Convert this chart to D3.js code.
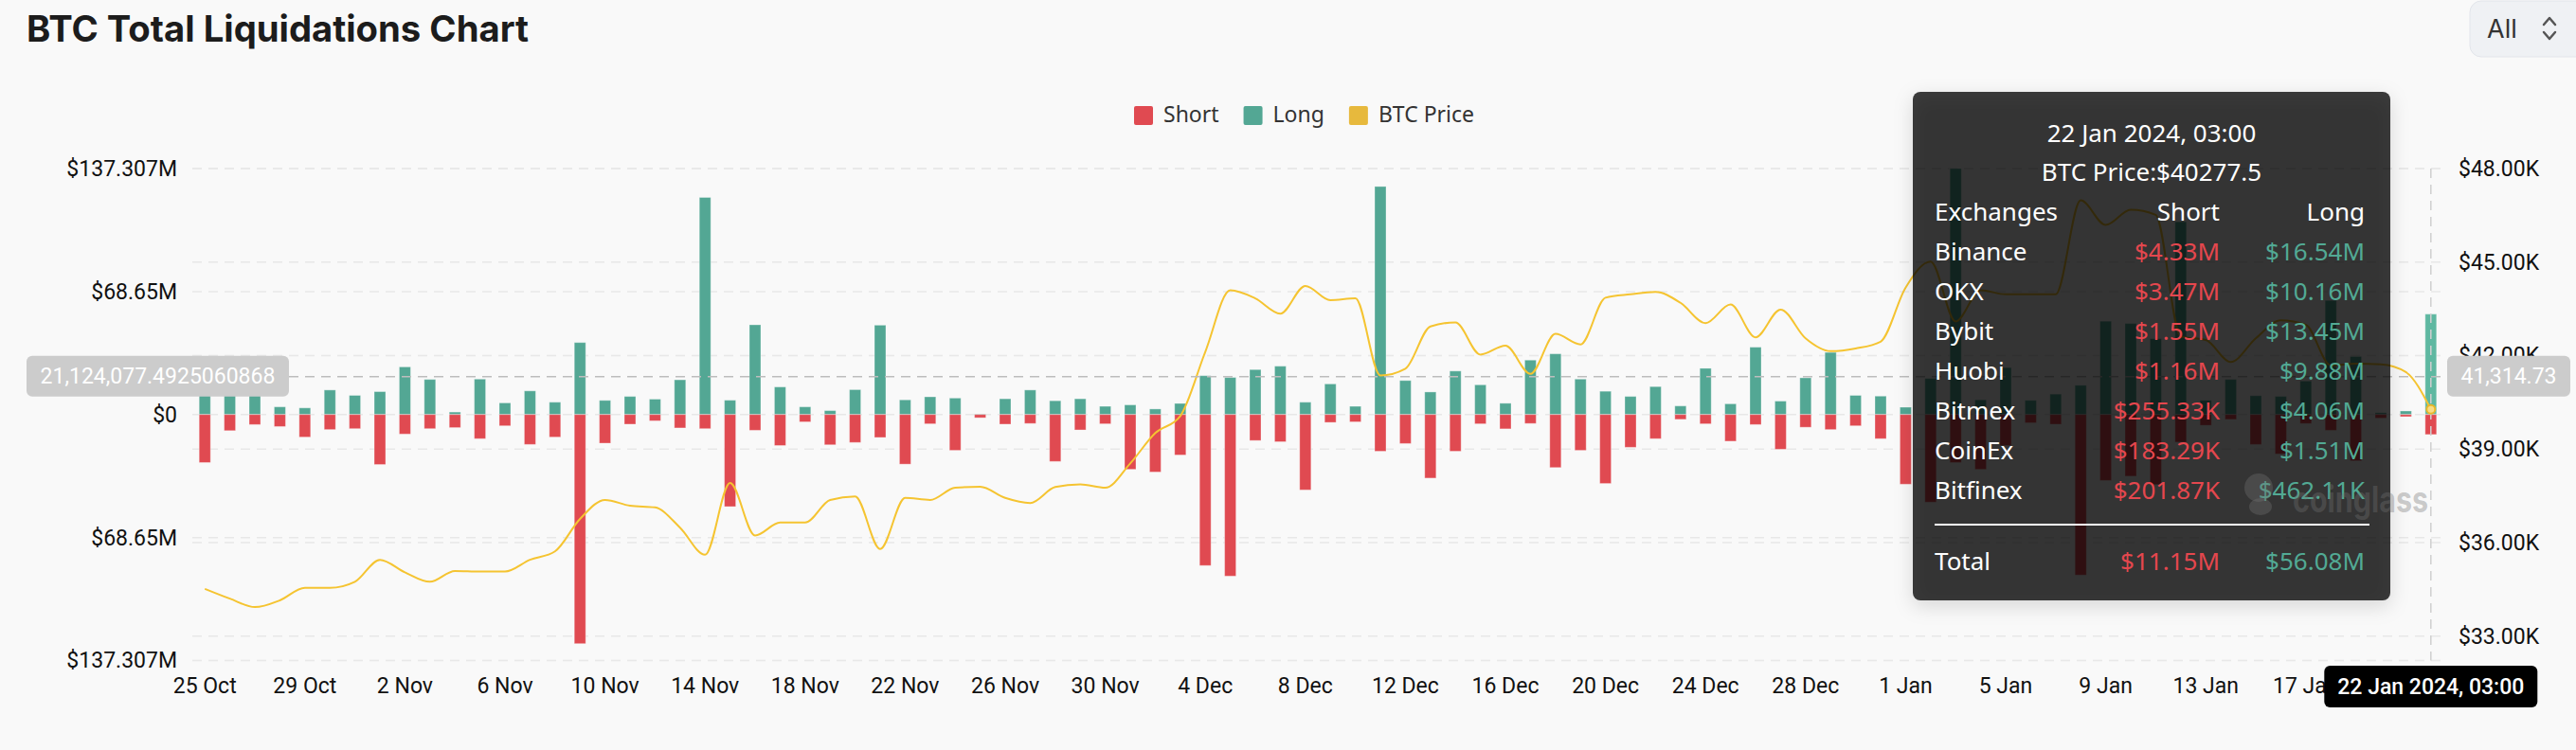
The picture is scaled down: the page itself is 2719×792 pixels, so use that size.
<!DOCTYPE html>
<html>
<head>
<meta charset="utf-8">
<script src="https://cdn.jsdelivr.net/npm/d3@7"></script>
<style>
  html, body { margin: 0; padding: 0; background: #f9f9f9; }
  svg { display: block; }
</style>
</head>
<body>
<script>
// daily categories, 25 Oct 2023 .. 22 Jan 2024
const dates = d3.timeDays(new Date(2023, 9, 25), new Date(2024, 0, 23));

// long liquidations, $M
const longVals = [
  16, 14, 12, 4.3, 3.7, 13.7, 10.7, 12.8, 26.6, 19.6,
  1.4, 19.8, 6.5, 13.2, 6.9, 40.2, 7.9, 10.1, 8.6, 19.4,
  121.2, 8.0, 50.1, 15.4, 4.3, 2.2, 13.9, 49.9, 8.2, 9.9,
  9.2, 0.3, 8.8, 13.7, 7.7, 8.8, 4.6, 5.4, 3.1, 6.2,
  21.7, 20.7, 25.1, 27.0, 6.9, 17.1, 4.6, 127.3, 19.0, 12.6,
  24.3, 16.6, 6.3, 30.4, 33.9, 19.8, 13.0, 10.1, 15.6, 4.8,
  25.8, 6.0, 37.6, 7.5, 20.5, 34.7, 10.7, 10.3, 4.1, 20.1,
  137.307, 8.2, 26.2, 7.9, 11.4, 16.3, 52.1, 50.8, 42.3, 107.6,
  7.9, 19.6, 10.5, 10.1, 18.7, 63.7, 32.4, 1.0, 2.0, 56.08
];

// short liquidations, $M (drawn below zero)
const shortVals = [
  26.8, 9.0, 5.6, 6.7, 12.6, 8.4, 7.9, 27.9, 10.9, 7.9,
  7.3, 13.5, 6.3, 16.7, 12.6, 127.9, 16.0, 5.4, 3.5, 7.5,
  7.9, 51.4, 8.8, 17.3, 4.1, 16.9, 15.6, 12.8, 27.7, 5.2,
  20.0, 1.8, 5.4, 5.0, 26.2, 8.6, 5.2, 30.6, 32.1, 22.6,
  84.3, 90.2, 14.5, 15.2, 42.1, 4.4, 4.1, 20.5, 16.2, 35.5,
  20.5, 5.2, 8.0, 5.0, 29.6, 20.0, 38.5, 18.3, 13.5, 2.7,
  5.2, 14.9, 5.6, 19.4, 7.1, 8.4, 6.3, 13.5, 38.9, 48.9,
  26.8, 30.6, 17.3, 4.6, 5.4, 89.6, 36.8, 34.4, 39.1, 15.4,
  6.0, 2.7, 16.7, 22.0, 5.0, 8.8, 25.8, 2.0, 1.2, 11.15
];

// BTC price, USD
const priceVals = [
  34518, 34204, 33933, 34150, 34551, 34551, 34746, 35450, 35050, 34746,
  35093, 35072, 35072, 35450, 35720, 36760, 37371, 37187, 37132, 36482,
  35614, 37913, 36232, 36644, 36644, 37371, 37479, 35798, 37436, 37371,
  37762, 37794, 37436, 37273, 37784, 37870, 37762, 38542, 39518, 40061,
  42122, 44095, 43835, 43347, 44236, 43781, 43835, 41362, 41580, 42935,
  43065, 42035, 42317, 41416, 42696, 42360, 43857, 43965, 44041, 43694,
  43043, 43640, 42588, 43477, 42555, 42143, 42230, 42447, 44182, 45017,
  43097, 44100, 43965, 43965, 43965, 46980, 46189, 46677, 46514, 42610,
  42501, 41796, 42555, 43130, 42989, 41688, 41742, 41720, 41471, 40277.5
];

const leftTicks = [-137.307, -68.6535, 0, 68.6535, 137.307];
const leftTickLabels = ["$137.307M", "$68.65M", "$0", "$68.65M", "$137.307M"];
const rightTicks = [33000, 36000, 39000, 42000, 45000, 48000];
const rightTickLabels = ["$33.00K", "$36.00K", "$39.00K", "$42.00K", "$45.00K", "$48.00K"];

const hoverValue = 21.1240774925060868; // $M at the crosshair
const hoverValueLabel = "21,124,077.4925060868";
const hoverPriceLabel = "41,314.73";
const hoverDateLabel = "22 Jan 2024, 03:00";

const exchanges = ["Binance", "OKX", "Bybit", "Huobi", "Bitmex", "CoinEx", "Bitfinex"];
const exShort = ["$4.33M", "$3.47M", "$1.55M", "$1.16M", "$255.33K", "$183.29K", "$201.87K"];
const exLong = ["$16.54M", "$10.16M", "$13.45M", "$9.88M", "$4.06M", "$1.51M", "$462.11K"];
const totalShort = "$11.15M";
const totalLong = "$56.08M";
const tipPrice = "BTC Price:$40277.5";

const RED = "#e04a51", GREEN = "#53a794", YELLOW = "#f5c431";
const TIP_RED = "#e5474e", TIP_GREEN = "#52aa94";

const W = 2719, H = 792;
const plot = { left: 203, right: 2579, top: 178, bottom: 697.5 };

const svg = d3.select("body").append("svg")
  .attr("width", W).attr("height", H)
  .style("font-family", "Roboto, sans-serif");

svg.append("rect").attr("width", W).attr("height", H).attr("fill", "#f9f9f9");

const defs = svg.append("defs");
const shadow = defs.append("filter").attr("id", "shadow")
  .attr("x", "-10%").attr("y", "-10%").attr("width", "120%").attr("height", "125%");
shadow.append("feDropShadow").attr("dx", 0).attr("dy", 6).attr("stdDeviation", 10)
  .attr("flood-color", "#000").attr("flood-opacity", 0.18);

const x = d3.scaleBand().domain(dates).range([plot.left, plot.right]).padding(0);
const yL = d3.scaleLinear().domain([-137.307, 137.307]).range([plot.bottom, plot.top]);
const yR = d3.scaleLinear().domain([32220, 48000]).range([plot.bottom, plot.top]);
const cx = (d) => x(d) + x.bandwidth() / 2;
const barW = 12;

// grid lines for both axes
const grid = svg.append("g").attr("stroke", "#e8e8e8").attr("stroke-width", 1.5)
  .attr("stroke-dasharray", "10,7");
grid.selectAll("line.l").data(leftTicks).join("line").attr("class", "l")
  .attr("x1", plot.left).attr("x2", plot.right)
  .attr("y1", (d) => yL(d)).attr("y2", (d) => yL(d));
grid.selectAll("line.r").data(rightTicks).join("line").attr("class", "r")
  .attr("x1", plot.left).attr("x2", plot.right)
  .attr("y1", (d) => yR(d)).attr("y2", (d) => yR(d));

// bars
const bars = svg.append("g").attr("stroke", "#fff").attr("stroke-opacity", 0.35).attr("stroke-width", 1);
bars.selectAll("rect.long").data(dates).join("rect").attr("class", "long")
  .attr("x", (d) => cx(d) - barW / 2).attr("width", barW)
  .attr("y", (d, i) => yL(longVals[i]))
  .attr("height", (d, i) => yL(0) - yL(longVals[i]))
  .attr("fill", (d, i) => (i === dates.length - 1 ? "#5fb8a1" : GREEN));
bars.selectAll("rect.short").data(dates).join("rect").attr("class", "short")
  .attr("x", (d) => cx(d) - barW / 2).attr("width", barW)
  .attr("y", yL(0))
  .attr("height", (d, i) => yL(-shortVals[i]) - yL(0))
  .attr("fill", RED);

// price line
const line = d3.line().x((d) => cx(d)).y((d, i) => yR(priceVals[i])).curve(d3.curveMonotoneX);
svg.append("path").datum(dates).attr("d", line)
  .attr("fill", "none").attr("stroke", YELLOW).attr("stroke-width", 2);

// crosshair
const lastDate = dates[dates.length - 1];
svg.append("line")
  .attr("x1", plot.left).attr("x2", plot.right)
  .attr("y1", yL(hoverValue)).attr("y2", yL(hoverValue))
  .attr("stroke", "#bdbdbd").attr("stroke-width", 1.5).attr("stroke-dasharray", "10,7");
svg.append("line")
  .attr("x1", cx(lastDate)).attr("x2", cx(lastDate))
  .attr("y1", plot.top).attr("y2", plot.bottom)
  .attr("stroke", "#cfcfcf").attr("stroke-width", 1.5).attr("stroke-dasharray", "10,7");
svg.append("circle")
  .attr("cx", cx(lastDate)).attr("cy", yR(priceVals[priceVals.length - 1])).attr("r", 4.5)
  .attr("fill", "#f8dc85").attr("stroke", "#e9b728").attr("stroke-width", 2);

// axes
const axisFont = (g) => {
  g.select(".domain").remove();
  g.selectAll("text").attr("font-size", 23).attr("fill", "#111").attr("font-family", "Roboto, sans-serif");
};
svg.append("g").attr("transform", `translate(${plot.left},0)`)
  .call(d3.axisLeft(yL).tickValues(leftTicks).tickSize(0).tickPadding(16)
    .tickFormat((d, i) => leftTickLabels[i]))
  .call(axisFont);
svg.append("g").attr("transform", `translate(${plot.right},0)`)
  .call(d3.axisRight(yR).tickValues(rightTicks).tickSize(0).tickPadding(16)
    .tickFormat((d, i) => rightTickLabels[i]))
  .call(axisFont);
svg.append("g").attr("transform", `translate(0,${plot.bottom})`)
  .call(d3.axisBottom(x).tickValues(dates.filter((d, i) => i % 4 === 0 && i <= 84))
    .tickSize(0).tickPadding(18).tickFormat(d3.timeFormat("%-d %b")))
  .call(axisFont);

// crosshair labels
function pill(x0, y0, w, h, fill, label, weight) {
  const g = svg.append("g");
  g.append("rect").attr("x", x0).attr("y", y0).attr("width", w).attr("height", h)
    .attr("rx", 6).attr("fill", fill);
  g.append("text").attr("x", x0 + w / 2).attr("y", y0 + h / 2).attr("dy", "0.35em")
    .attr("text-anchor", "middle").attr("fill", "#fff").attr("font-size", 23)
    .attr("font-weight", weight || 400).text(label);
}
pill(28, yL(hoverValue) - 22, 277, 43, "#cccccc", hoverValueLabel);
pill(2583, yL(hoverValue) - 22, 130, 43, "#cccccc", hoverPriceLabel);
pill(cx(lastDate) - 112.5, 703, 225, 44, "#000", hoverDateLabel, 500);

// tooltip
const tip = svg.append("g").style("font-family", "'Noto Sans', sans-serif").attr("font-size", 26);
tip.append("rect").attr("x", 2019).attr("y", 97).attr("width", 504).attr("height", 537)
  .attr("rx", 8).attr("fill", "rgba(8,8,8,0.76)").attr("filter", "url(#shadow)");
tip.append("text").attr("x", 2271).attr("y", 150).attr("text-anchor", "middle")
  .attr("fill", "#fff").text(hoverDateLabel);
tip.append("text").attr("x", 2271).attr("y", 191).attr("text-anchor", "middle")
  .attr("fill", "#fff").text(tipPrice);
const rowY = (i) => 233 + i * 42;
tip.append("text").attr("x", 2042).attr("y", rowY(0)).attr("fill", "#fff").text("Exchanges");
tip.append("text").attr("x", 2343).attr("y", rowY(0)).attr("text-anchor", "end").attr("fill", "#fff").text("Short");
tip.append("text").attr("x", 2496).attr("y", rowY(0)).attr("text-anchor", "end").attr("fill", "#fff").text("Long");
exchanges.forEach((name, i) => {
  tip.append("text").attr("x", 2042).attr("y", rowY(i + 1)).attr("fill", "#fff").text(name);
  tip.append("text").attr("x", 2343).attr("y", rowY(i + 1)).attr("text-anchor", "end")
    .attr("fill", TIP_RED).text(exShort[i]);
  tip.append("text").attr("x", 2496).attr("y", rowY(i + 1)).attr("text-anchor", "end")
    .attr("fill", TIP_GREEN).text(exLong[i]);
});
tip.append("line").attr("x1", 2042).attr("x2", 2501).attr("y1", 554).attr("y2", 554)
  .attr("stroke", "#fff").attr("stroke-width", 2);
tip.append("text").attr("x", 2042).attr("y", 602).attr("fill", "#fff").text("Total");
tip.append("text").attr("x", 2343).attr("y", 602).attr("text-anchor", "end").attr("fill", TIP_RED).text(totalShort);
tip.append("text").attr("x", 2496).attr("y", 602).attr("text-anchor", "end").attr("fill", TIP_GREEN).text(totalLong);

// watermark
const wm = svg.append("g").attr("fill", "rgba(115,115,115,0.37)");
wm.append("circle").attr("cx", 2384).attr("cy", 515).attr("r", 15);
wm.append("ellipse").attr("cx", 2386).attr("cy", 535).attr("rx", 12).attr("ry", 9);
wm.append("text").attr("x", 2420).attr("y", 541).attr("font-size", 38).attr("font-weight", 700)
  .attr("font-family", "Inter, sans-serif").attr("textLength", 143)
  .attr("lengthAdjust", "spacingAndGlyphs").text("coinglass");

// legend
const legendItems = [
  { name: "Short", color: RED },
  { name: "Long", color: GREEN },
  { name: "BTC Price", color: "#e7b93d" }
];
let lx = 1197;
legendItems.forEach((it) => {
  svg.append("rect").attr("x", lx).attr("y", 112).attr("width", 20).attr("height", 20)
    .attr("rx", 2).attr("fill", it.color);
  const t = svg.append("text").attr("x", lx + 31).attr("y", 129).attr("font-size", 23)
    .attr("font-family", "'Noto Sans', sans-serif").attr("fill", "#333").text(it.name);
  lx += 31 + t.node().getComputedTextLength() + 26;
});

// title
svg.append("text").attr("x", 28).attr("y", 44).attr("font-size", 38).attr("font-weight", 700)
  .attr("font-family", "Inter, sans-serif").attr("fill", "#1c1c1c")
  .attr("textLength", 530).attr("lengthAdjust", "spacingAndGlyphs")
  .text("BTC Total Liquidations Chart");

// range selector
svg.append("rect").attr("x", 2607).attr("y", 1).attr("width", 130).attr("height", 59)
  .attr("rx", 12).attr("fill", "#eff1f4").attr("stroke", "#e2e5ea");
svg.append("text").attr("x", 2625).attr("y", 40).attr("font-size", 27)
  .attr("font-family", "Inter, sans-serif").attr("fill", "#333").text("All");
svg.append("path").attr("d", "M2685,26 L2691,19 L2697,26 M2685,34 L2691,41 L2697,34")
  .attr("fill", "none").attr("stroke", "#555").attr("stroke-width", 2.5)
  .attr("stroke-linecap", "round").attr("stroke-linejoin", "round");
</script>
</body>
</html>
